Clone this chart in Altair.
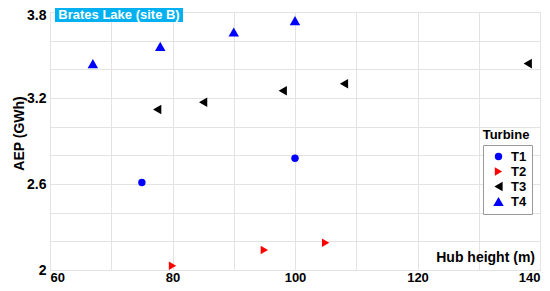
import altair as alt
import pandas as pd

turbine = ["T1", "T1",
           "T2", "T2", "T2",
           "T3", "T3", "T3", "T3", "T3",
           "T4", "T4", "T4", "T4"]
hub_height = [75, 100,
              80, 95, 105,
              77.5, 85, 98, 108, 138,
              67, 78, 90, 100]
aep = [2.61, 2.78,
       2.03, 2.14, 2.19,
       3.12, 3.17, 3.25, 3.30, 3.44,
       3.44, 3.56, 3.66, 3.74]

df = pd.DataFrame({"Turbine": turbine, "Hub": hub_height, "AEP": aep})

FONT = "Liberation Sans"
W, H = 490, 258
TOP = 4

x_ticks = list(range(60, 141, 10))
y_ticks = [round(2 + 0.2 * i, 1) for i in range(10)]
cats = ["T1", "T2", "T3", "T4"]

leg = alt.Legend(title=None, orient="none", legendX=433, legendY=134 - (13 - 8 - TOP),
                 fillColor="white", strokeColor="#9a9a9a",
                 padding=5, rowPadding=1, symbolOffset=4, labelOffset=6,
                 labelFont=FONT, labelFontSize=13, labelFontWeight="bold",
                 labelColor="black", symbolStrokeWidth=0, symbolOpacity=1)

points = alt.Chart(df).mark_point(filled=True, opacity=1).encode(
    x=alt.X("Hub:Q", scale=alt.Scale(domain=[60, 140], nice=False),
            axis=alt.Axis(values=x_ticks, title=None,
                          labelExpr="datum.value % 20 == 0 ? datum.label : ''",
                          labelFont=FONT, labelFontSize=13, labelFontWeight="bold",
                          labelColor="black", ticks=False, domain=False, labelPadding=1,
                          gridColor="#e3e3e3")),
    y=alt.Y("AEP:Q", scale=alt.Scale(domain=[2, 3.8], nice=False, zero=False),
            axis=alt.Axis(values=y_ticks, title="AEP (GWh)", format="~g",
                          labelExpr="(round((datum.value - 2) * 10) % 6 == 0) ? datum.label : ''",
                          labelOffset={"expr": "datum.value > 3.7 ? 3 : 0"},
                          labelFont=FONT, labelFontSize=14, labelFontWeight="bold",
                          labelColor="black", ticks=False, domain=False, labelPadding=4,
                          titleFont=FONT, titleFontSize=14, titleFontWeight="bold",
                          titleColor="black", titleX=-31, titleY=121, titleAngle=-90,
                          titleAlign="center", titleBaseline="middle",
                          gridColor="#e3e3e3")),
    shape=alt.Shape("Turbine:N",
                    scale=alt.Scale(domain=cats,
                                    range=["circle", "triangle-right", "triangle-left", "triangle-up"]),
                    legend=leg),
    color=alt.Color("Turbine:N",
                    scale=alt.Scale(domain=cats,
                                    range=["#0000ff", "#ff0000", "#000000", "#0000ff"]),
                    legend=leg),
    size=alt.Size("Turbine:N",
                  scale=alt.Scale(domain=cats, range=[55, 110, 110, 110]),
                  legend=leg),
)

box = alt.Chart(pd.DataFrame({"t": ["Brates Lake (site B)"]})).mark_rect(
    color="#00b0f0").encode(x=alt.value(5), x2=alt.value(133), y=alt.value(-TOP), y2=alt.value(10))

box_text = alt.Chart(pd.DataFrame({"t": ["Brates Lake (site B)"]})).mark_text(
    font=FONT, fontSize=13, fontWeight="bold", color="white", align="center", baseline="middle"
).encode(text="t:N", x=alt.value(69), y=alt.value(3))

xtitle = alt.Chart(pd.DataFrame({"t": ["Hub height (m)"]})).mark_text(
    font=FONT, fontSize=14, fontWeight="bold", color="black", align="right", baseline="middle"
).encode(text="t:N", x=alt.value(485), y=alt.value(246))

legtitle = alt.Chart(pd.DataFrame({"t": ["Turbine"]})).mark_text(
    font=FONT, fontSize=13, fontWeight="bold", color="black", align="center", baseline="middle"
).encode(text="t:N", x=alt.value(456), y=alt.value(123))

chart = alt.layer(points, box, box_text, xtitle, legtitle).properties(
    width=W, height=H,
    autosize=alt.AutoSizeParams(type="none"),
    padding={"left": 42, "top": TOP, "right": 2, "bottom": 13},
).configure_view(stroke="#9a9a9a", strokeWidth=1).configure(background="white")

chart.save("out.html", embed_options={"renderer": "svg", "actions": False})
